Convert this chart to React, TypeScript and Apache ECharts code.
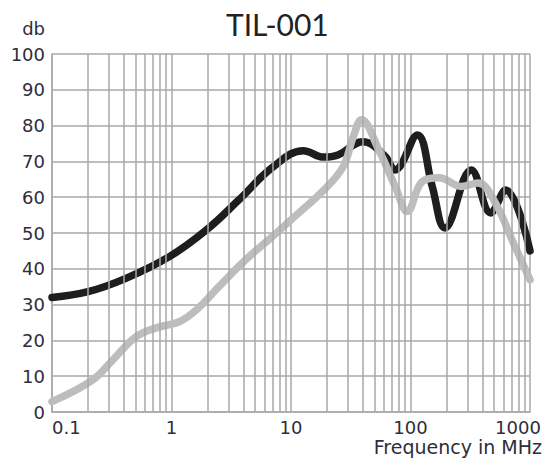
import React, { useEffect, useRef } from 'react';
import * as echarts from 'echarts';

const TITLE = 'TIL-001';
const X_NAME = 'Frequency in MHz';
const Y_NAME = 'db';
const X_MIN = 0.1;
const X_MAX = 1000;
const Y_MIN = 0;
const Y_MAX = 100;
const Y_STEP = 10;
const DECADES = [0.1, 1, 10, 100];
const MINOR_STEPS = [2, 3, 4, 5, 6, 7, 8, 9];

const blackFreq = [0.1, 0.2, 0.42, 0.96, 1.95, 3.65, 7.1, 12.7, 18.8, 24.7, 40, 61, 74, 114, 152, 194, 322, 470, 624, 1000];
const blackDb = [32, 33.6, 37.4, 43.4, 50.8, 59.2, 68.5, 73, 71.2, 71.8, 75.5, 71.5, 67.6, 77.4, 63, 51.4, 67.6, 55.6, 62, 45];

const grayFreq = [0.1, 0.218, 0.322, 0.505, 0.746, 1.16, 1.61, 2.49, 4.17, 6.97, 10.4, 18.8, 27.3, 33.2, 38.9, 54.3, 74.5, 94, 125, 173, 267, 368, 498, 727, 1000];
const grayDb = [2.9, 8.9, 14.5, 21, 23.5, 25.2, 28.5, 35, 42.5, 49, 54.2, 62, 68.5, 76.9, 81.6, 73.2, 63, 56, 64.3, 65.4, 63, 64, 59.2, 47.2, 36.9];

const GRID_COLOR = '#a8a8a8';
const TEXT_COLOR = '#2e2d3d';

export default function App() {
  const ref = useRef<HTMLDivElement>(null);
  useEffect(() => {
    document.body.style.margin = '0';
    const chart = echarts.init(ref.current!, null, { renderer: 'svg' });
    const minorLines: any[] = [];
    DECADES.forEach((d) => MINOR_STEPS.forEach((k) => minorLines.push({ xAxis: Number((d * k).toPrecision(3)) })));
    const black = blackFreq.map((f, i) => [f, blackDb[i]]);
    const gray = grayFreq.map((f, i) => [f, grayDb[i]]);
    chart.setOption({
      animation: false,
      title: {
        text: TITLE,
        left: 221,
        top: 4,
        textStyle: { fontFamily: 'Lato', fontSize: 30, fontWeight: 'normal', color: '#222' },
      },
      graphic: [
        {
          type: 'text',
          right: 6,
          top: 437,
          style: { text: X_NAME, fontFamily: 'DejaVu Sans', fontSize: 19, fill: TEXT_COLOR },
        },
      ],
      grid: { left: 52, right: 18, top: 54, bottom: 53, containLabel: false, outerBoundsMode: 'none' },
      xAxis: {
        type: 'log',
        logBase: 10,
        min: X_MIN,
        max: X_MAX,
        axisLine: { show: true, lineStyle: { color: GRID_COLOR, width: 1.5 } },
        axisTick: { show: false },
        splitLine: { show: true, lineStyle: { color: GRID_COLOR, width: 1.5 } },
        axisLabel: {
          fontFamily: 'DejaVu Sans',
          fontSize: 18,
          lineHeight: 18,
          color: TEXT_COLOR,
          margin: 6,
          alignMinLabel: 'left',
          formatter: (v: number) => (v >= X_MAX ? '{m|' + v + '}' : String(v)),
          rich: { m: { fontFamily: 'DejaVu Sans', fontSize: 18, lineHeight: 18, color: TEXT_COLOR, padding: [0, 24, 0, 0] } },
        },
      },
      yAxis: {
        type: 'value',
        min: Y_MIN,
        max: Y_MAX,
        interval: Y_STEP,
        name: Y_NAME,
        nameLocation: 'end',
        nameGap: 17,
        nameTextStyle: {
          fontFamily: 'DejaVu Sans',
          fontSize: 18,
          color: TEXT_COLOR,
          align: 'right',
          padding: [0, 7, 0, 0],
        },
        axisLine: { show: true, lineStyle: { color: GRID_COLOR, width: 1.5 } },
        axisTick: { show: false },
        splitLine: { show: true, lineStyle: { color: GRID_COLOR, width: 1.5 } },
        axisLabel: { fontFamily: 'DejaVu Sans', fontSize: 18, color: TEXT_COLOR, margin: 7 },
      },
      series: [
        {
          type: 'line',
          data: [],
          z: 1,
          silent: true,
          markLine: {
            silent: true,
            symbol: ['none', 'none'],
            label: { show: false },
            lineStyle: { color: GRID_COLOR, width: 1.5, type: 'solid' },
            data: minorLines,
          },
        },
        {
          type: 'line',
          data: black,
          smooth: 0.4,
          showSymbol: false,
          z: 3,
          lineStyle: { color: '#1e1e1e', width: 7.5, cap: 'round', join: 'round' },
        },
        {
          type: 'line',
          data: gray,
          smooth: 0.4,
          showSymbol: false,
          z: 4,
          lineStyle: { color: '#bdbdbd', width: 7.5, cap: 'round', join: 'round' },
        },
      ],
    });
    return () => chart.dispose();
  }, []);
  return <div ref={ref} style={{ width: 548, height: 465 }} />;
}
